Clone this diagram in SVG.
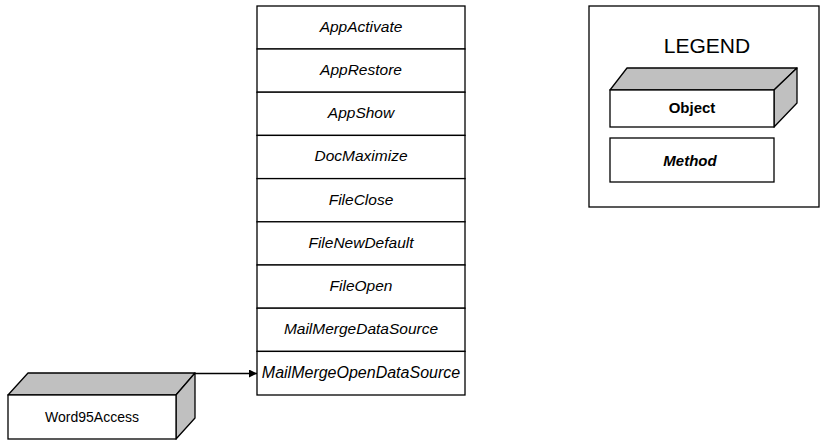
<svg xmlns="http://www.w3.org/2000/svg" width="820" height="440" viewBox="0 0 820 440">
<style>
.box{fill:#fff;stroke:#000;stroke-width:1.3}
.side{fill:#c0c0c0;stroke:#000;stroke-width:1.3;stroke-linejoin:round}
.m{font-family:"Liberation Sans",Arial,sans-serif;font-style:italic;font-size:15.5px;fill:#000;text-anchor:middle}
.o{font-family:"Liberation Sans",Arial,sans-serif;font-size:15px;fill:#000;text-anchor:middle}
.conn{stroke:#000;stroke-width:1.3;fill:none}
</style>
<defs>
<marker id="arr" viewBox="0 0 10 10" refX="10" refY="5" markerWidth="8" markerHeight="8" markerUnits="userSpaceOnUse" orient="auto">
<path d="M0,0 L10,5 L0,10 z" fill="#000"/>
</marker>
</defs>
<rect width="820" height="440" fill="#fff"/>
<g id="methods">
<g id="AppActivate"><rect class="box" x="257" y="6" width="208" height="43"/><text class="m" x="361" y="32">AppActivate</text></g>
<g id="AppRestore"><rect class="box" x="257" y="49" width="208" height="43.2"/><text class="m" x="361" y="75">AppRestore</text></g>
<g id="AppShow"><rect class="box" x="257" y="92.2" width="208" height="43.2"/><text class="m" x="361" y="118">AppShow</text></g>
<g id="DocMaximize"><rect class="box" x="257" y="135.4" width="208" height="43.2"/><text class="m" x="361" y="161">DocMaximize</text></g>
<g id="FileClose"><rect class="box" x="257" y="178.6" width="208" height="43.2"/><text class="m" x="361" y="205">FileClose</text></g>
<g id="FileNewDefault"><rect class="box" x="257" y="221.8" width="208" height="43.2"/><text class="m" x="361" y="248">FileNewDefault</text></g>
<g id="FileOpen"><rect class="box" x="257" y="265" width="208" height="43.2"/><text class="m" x="361" y="291">FileOpen</text></g>
<g id="MailMergeDataSource"><rect class="box" x="257" y="308.2" width="208" height="43.2"/><text class="m" x="361" y="334">MailMergeDataSource</text></g>
<g id="MailMergeOpenDataSource"><rect class="box" x="257" y="351.4" width="208" height="43.6"/><text class="m" x="361" y="378" style="font-size:16px">MailMergeOpenDataSource</text></g>
</g>
<g id="Word95Access">
<polygon class="side" points="8,395 28,373 195,373 176,395"/>
<polygon class="side" points="176,395 195,373 195,418 176,439"/>
<rect class="box" x="8" y="395" width="168" height="44"/>
<text class="o" x="92" y="422" style="font-size:14px">Word95Access</text>
</g>
<g id="connectors">
<line class="conn" x1="195" y1="373.5" x2="257" y2="373.5" marker-end="url(#arr)"/>
</g>
<g id="legend">
<rect class="box" x="589" y="6" width="230" height="201"/>
<text class="o" x="707" y="53" style="font-size:21px">LEGEND</text>
<g id="legend-object">
<polygon class="side" points="610,90 627,68 797,68 774,90"/>
<polygon class="side" points="774,90 797,68 797,103 774,127"/>
<rect class="box" x="610" y="90" width="164" height="37"/>
<text class="o" x="692" y="113" style="font-weight:bold">Object</text>
</g>
<g id="legend-method">
<rect class="box" x="610" y="138" width="164" height="44"/>
<text class="o" x="690" y="166" style="font-style:italic;font-weight:bold">Method</text>
</g>
</g>
</svg>
